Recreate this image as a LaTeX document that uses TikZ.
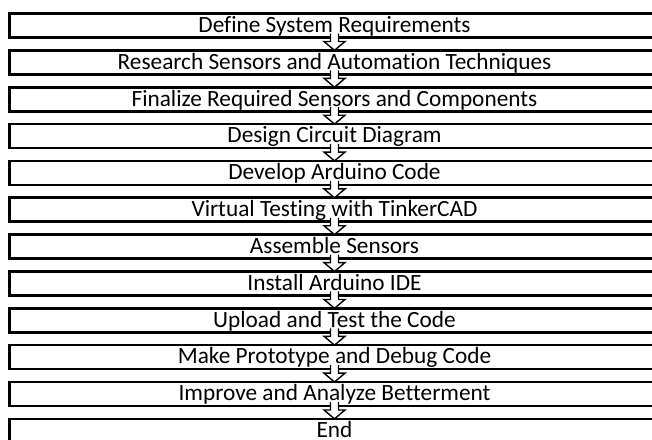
\documentclass[tikz,border=0pt]{standalone}
\usepackage{fontspec}
\setmainfont[Ligatures=NoCommon]{Carlito}
\usetikzlibrary{positioning,calc}

\tikzset{stepbox/.style={draw,line width=2.6pt,outer sep=0pt,inner sep=0pt,
	minimum width=650pt,minimum height=24pt,text height=18.8pt,text depth=5.2pt,
	font=\fontsize{23.3}{23.3}\selectfont},
	steparrow/.style={line width=1.4pt,line join=miter}}

% block arrow from one box down to the next
\newcommand{\steparrow}[2]{%
	\fill[white] ($(#1.south)+(-4,4)$) -- ($(#1.south)+(-4,-4)$) -- ($(#1.south)+(-10.5,-4)$)
		-- (#2.north) -- ($(#1.south)+(10.5,-4)$) -- ($(#1.south)+(4,-4)$) -- ($(#1.south)+(4,4)$) -- cycle;
	\draw[steparrow] ($(#1.south)+(-4,4)$) -- ($(#1.south)+(-4,-4)$) -- ($(#1.south)+(-10.5,-4)$)
		-- (#2.north) -- ($(#1.south)+(10.5,-4)$) -- ($(#1.south)+(4,-4)$) -- ($(#1.south)+(4,4)$);}

\begin{document}
\begin{tikzpicture}[x=1pt,y=1pt,node distance=12.85pt]
\useasboundingbox (0,0) rectangle (652,-439);
\node[stepbox] (s1) at (334.5,-25.5) {Define System Requirements};
\node[stepbox,below=of s1] (s2) {Research Sensors and Automation Techniques};
\node[stepbox,below=of s2] (s3) {Finalize Required Sensors and Components};
\node[stepbox,below=of s3] (s4) {Design Circuit Diagram};
\node[stepbox,below=of s4] (s5) {Develop Arduino Code};
\node[stepbox,below=of s5] (s6) {Virtual Testing with TinkerCAD};
\node[stepbox,below=of s6] (s7) {Assemble Sensors};
\node[stepbox,below=of s7] (s8) {Install Arduino IDE};
\node[stepbox,below=of s8] (s9) {Upload and Test the Code};
\node[stepbox,below=of s9] (s10) {Make Prototype and Debug Code};
\node[stepbox,below=of s10] (s11) {Improve and Analyze Betterment};
\node[stepbox,below=of s11] (s12) {End};
\foreach \a/\b in {s1/s2,s2/s3,s3/s4,s4/s5,s5/s6,s6/s7,s7/s8,s8/s9,s9/s10,s10/s11,s11/s12}
	{\steparrow{\a}{\b}}
\end{tikzpicture}
\end{document}
